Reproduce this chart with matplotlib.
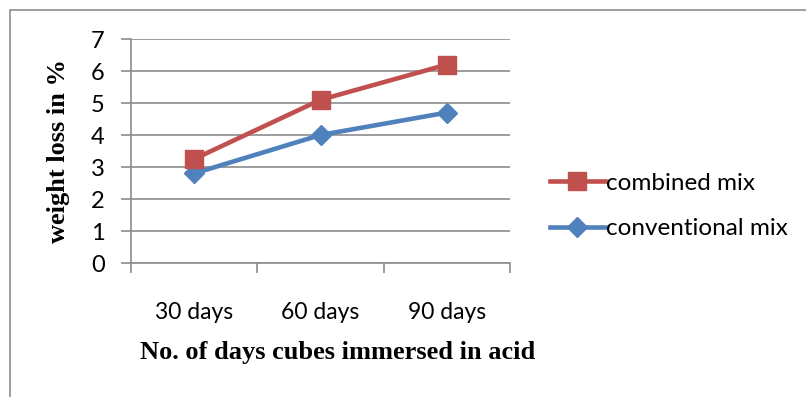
import matplotlib
matplotlib.use("Agg")
import matplotlib.pyplot as plt
from matplotlib.patches import Rectangle

categories = ["30 days", "60 days", "90 days"]
combined = [3.25, 5.1, 6.2]
conventional = [2.8, 4.0, 4.7]
yticks = [0, 1, 2, 3, 4, 5, 6, 7]

W, H = 806, 397
fig = plt.figure(figsize=(W / 100, H / 100), dpi=100)
fig.patch.set_facecolor("white")

# outer chart border
fig.patches.append(Rectangle((10 / W, -0.05), 1.1, 1 - 10 / H + 0.05, transform=fig.transFigure,
                             fill=False, edgecolor="#8c8c8c", linewidth=1.2, zorder=0))

ax = fig.add_axes([131 / W, 1 - 263 / H, (510 - 131) / W, (263 - 39) / H])
x = list(range(len(categories)))
ax.plot(x, conventional, color="#4F81BD", linewidth=3.3, marker="D", markersize=10.5,
        label="conventional mix", zorder=3)
ax.plot(x, combined, color="#C0504D", linewidth=3.3, marker="s", markersize=13.5,
        label="combined mix", zorder=4)

ax.set_xlim(-0.5, len(categories) - 0.5)
ax.set_ylim(0, 7)
ax.set_yticks(yticks)
ax.set_yticklabels([str(v) for v in yticks], fontsize=17, family="Lato")
ax.set_xticks([i - 0.5 for i in range(len(categories) + 1)], minor=False)
ax.set_xticklabels([])
ax.set_xticks(x, minor=True)
ax.set_xticklabels(categories, minor=True, fontsize=16.5, family="Lato")
ax.tick_params(axis="x", which="minor", length=0, pad=28)
ax.tick_params(axis="x", which="major", length=7, color="#8c8c8c", width=1.2)
ax.tick_params(axis="y", length=7, color="#8c8c8c", width=1.2, pad=12)
ax.grid(axis="y", color="#8c8c8c", linewidth=1.2)
ax.set_axisbelow(True)
for s in ["top", "right"]:
    ax.spines[s].set_visible(False)
for s in ["left", "bottom"]:
    ax.spines[s].set_color("#8c8c8c")
    ax.spines[s].set_linewidth(1.2)

fig.text(58 / W, 1 - 151 / H, "weight loss in %", fontsize=19, fontweight="bold",
         family="Liberation Serif", ha="center", va="center", rotation=90)
fig.text(338 / W, 1 - 352 / H, "No. of days cubes immersed in acid", fontsize=19, fontweight="bold",
         family="Liberation Serif", ha="center", va="center")

handles, labels = ax.get_legend_handles_labels()
leg = fig.legend(handles[::-1], labels[::-1], loc="center left", bbox_to_anchor=(528 / W, 1 - 206 / H),
                 frameon=False, prop={"family": "Lato", "size": 17.5}, handlelength=2.25,
                 handletextpad=0.05, labelspacing=1.0, borderaxespad=0.5)

fig.savefig("out.png", dpi=100)
